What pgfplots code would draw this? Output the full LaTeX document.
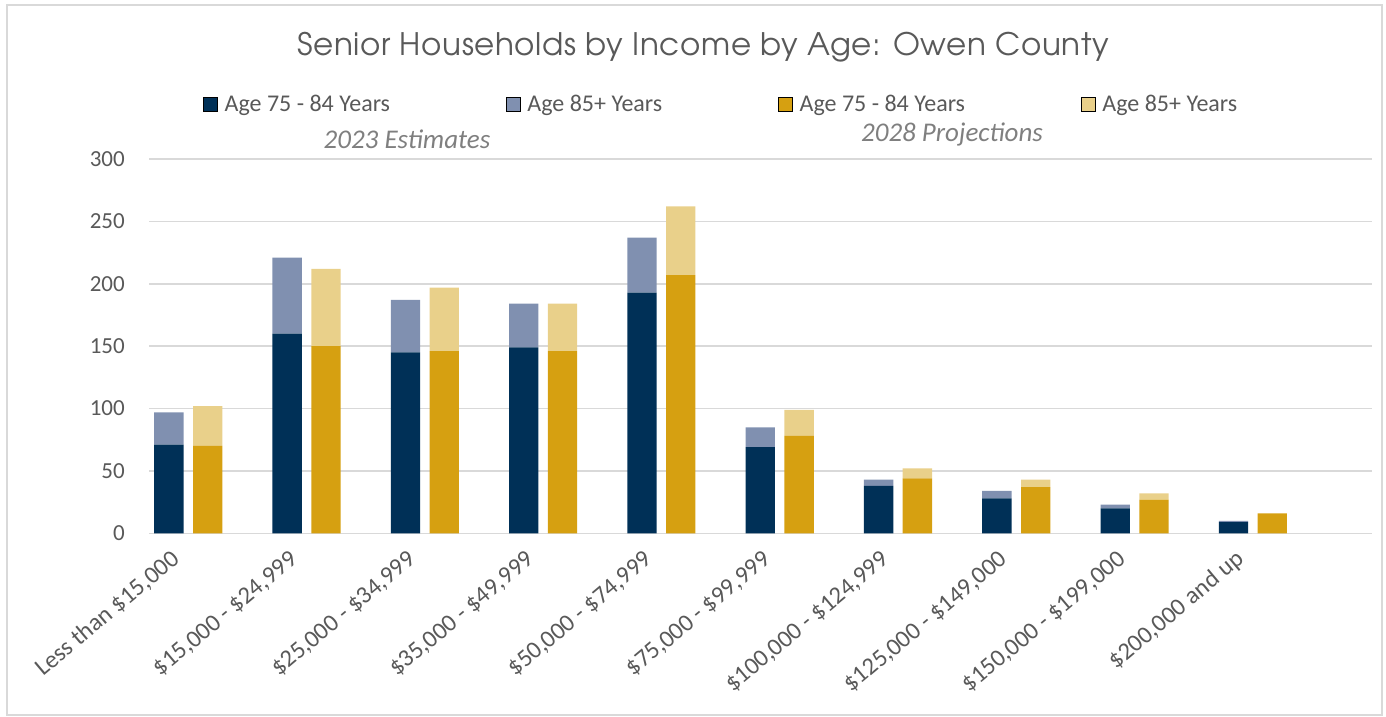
\documentclass[border=0pt]{standalone}
\usepackage{pgfplots}
\pgfplotsset{compat=1.18}
\usepackage{pgfplotstable}
\usepackage{fontspec}
\setmainfont{Carlito}
\newfontfamily\titlefont[LetterSpace=2]{TeX Gyre Adventor}

\definecolor{navyD}{RGB}{0,48,87}
\definecolor{navyL}{RGB}{128,144,176}
\definecolor{goldD}{RGB}{214,160,17}
\definecolor{goldL}{RGB}{233,208,138}
\definecolor{txtgray}{RGB}{89,89,89}
\definecolor{subgray}{RGB}{127,127,127}
\definecolor{gridgray}{RGB}{217,217,217}

% income band, 2023 (75-84, 85+), 2028 (75-84, 85+)
\pgfplotstableread{
x  n75  n85  g75  g85
0  71   26   70   32
1  160  61   150  62
2  145  42   146  51
3  149  35   146  38
4  193  44   207  55
5  69   16   78   21
6  38   5    44   8
7  28   6    37   6
8  20   3    27   5
9  9    1    16   0
}\datatable

\pgfplotsset{
  base/.style={
    at={(149pt,-533.3pt)}, anchor=south west,
    width=1223pt, height=374.3pt, scale only axis,
    xmin=-0.332, xmax=10.007, ymin=0, ymax=300,
    ybar stacked, bar width=0.248,
    axis line style={draw=none},
    major tick length=0pt,
  },
}

\begin{document}
\begin{tikzpicture}
\useasboundingbox (0pt,0pt) rectangle (1386pt,-717pt);
\draw[gridgray, line width=1.5pt] (7pt,-5pt) rectangle (1382pt,-715pt);

\begin{axis}[base,
    bar shift=-0.164,
    ymajorgrids, grid style={gridgray, line width=1.5pt},
    ytick={0,50,...,300},
    xtick={0,...,9},
    xticklabels={{Less than \$15,000},{\$15,000 - \$24,999},{\$25,000 - \$34,999},
      {\$35,000 - \$49,999},{\$50,000 - \$74,999},{\$75,000 - \$99,999},
      {\$100,000 - \$124,999},{\$125,000 - \$149,000},{\$150,000 - \$199,000},
      {\$200,000 and up}},
    /pgf/number format/assume math mode=true,
    tick label style={font=\fontsize{23}{27}\selectfont, text=txtgray},
    yticklabel style={inner sep=0pt, xshift=-24pt},
    xticklabel style={font=\fontsize{24.5}{28}\selectfont, inner sep=0pt,
      xshift=-12pt, yshift=-23pt, rotate=40, anchor=east},
    legend columns=4,
    legend cell align=left,
    legend image code/.code={\fill[#1] (0pt,-7pt) rectangle (14pt,7pt);
      \path (19pt,0pt);},
    legend style={at={(0.0442,1.147)}, anchor=west, draw=none, fill=none,
      inner sep=0pt, font=\fontsize{24}{28}\selectfont, text=txtgray,
      /tikz/every even column/.append style={column sep=114pt}},
]
\addplot[fill=navyD, draw=none, forget plot] table[x=x, y=n75] {\datatable};
\addplot[fill=navyL, draw=none, forget plot] table[x=x, y=n85] {\datatable};
\addlegendimage{fill=navyD}\addlegendentry{Age 75 - 84 Years}
\addlegendimage{fill=navyL}\addlegendentry{Age 85+ Years}
\addlegendimage{fill=goldD}\addlegendentry{Age 75 - 84 Years}
\addlegendimage{fill=goldL}\addlegendentry{Age 85+ Years}
\end{axis}

\begin{axis}[base,
    bar shift=0.164,
    xtick=\empty, ytick=\empty,
]
\addplot[fill=goldD, draw=none] table[x=x, y=g75] {\datatable};
\addplot[fill=goldL, draw=none] table[x=x, y=g85] {\datatable};
\end{axis}

\node[font=\titlefont\fontsize{31}{36}\selectfont, text=txtgray] at (703pt,-47pt)
  {Senior Households by Income by Age: Owen County};
\node[font=\itshape\fontsize{27}{32}\selectfont, text=subgray] at (407pt,-139pt) {2023 Estimates};
\node[font=\itshape\fontsize{27}{32}\selectfont, text=subgray] at (952pt,-134pt) {2028 Projections};
\end{tikzpicture}
\end{document}
